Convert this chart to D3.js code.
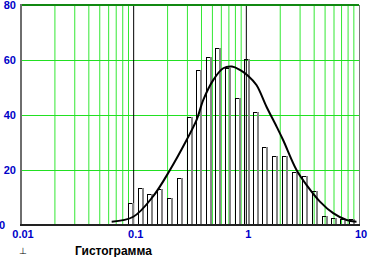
<!DOCTYPE html>
<html>
<head>
<meta charset="utf-8">
<script src="https://cdn.jsdelivr.net/npm/d3@7"></script>
<style>
  body { margin: 0; background: #fff; }
  svg { display: block; font-family: "Liberation Sans", Arial, sans-serif; }
</style>
</head>
<body>
<svg id="chart"></svg>
<script>
// histogram bins: lower edge of each bin and its count
const binLow = [0.0896, 0.1085, 0.132, 0.161, 0.1986, 0.2437, 0.297, 0.357, 0.438, 0.526,
                0.645, 0.792, 0.952, 1.156, 1.39, 1.687, 2.07, 2.54, 3.11, 3.82,
                4.69, 5.63, 6.77, 8.14];
const binCount = [8.1, 13.3, 11.4, 13, 9.9, 17, 39.3, 56.3, 61.2, 64.2,
                  57, 46.3, 60.2, 41.2, 28.2, 25.2, 25.2, 19.2, 17.9, 12.4,
                  3.3, 2.5, 2.2, 2.2];

// fitted density curve
const curveX = [0.0638, 0.0992, 0.148, 0.21, 0.295, 0.362, 0.415, 0.508, 0.624, 0.745,
                0.877, 1.04, 1.23, 1.51, 1.86, 2.12, 2.79, 3.43, 4.5, 5.9, 7.76, 9.5];
const curveY = [1.2, 3.0, 10.3, 20, 30.9, 38.2, 45.5, 52.7, 57, 57.6,
                56.4, 54.2, 50.9, 43, 35.7, 30.9, 20, 14.5, 8.5, 4.3, 1.8, 1.2];

const xTicks = [0.01, 0.1, 1, 10];
const xTickLabels = ['0.01', '0.1', '1', '10'];
const yTicks = [0, 20, 40, 60, 80];
const title = 'Гистограмма';

const config = {
    width: 369,
    height: 257,
    left: 21, right: 359, top: 5, bottom: 225,
    barWidth: 5,
    labelColor: '#0000c8'
};

const svg = d3.select('#chart')
    .attr('width', config.width)
    .attr('height', config.height);

const xScale = d3.scaleLog()
    .domain([0.01, 10])
    .range([config.left, config.right]);

const yScale = d3.scaleLinear()
    .domain([0, 80])
    .range([config.bottom, config.top]);

// minor log grid (2..9 in every decade)
let minor = [];
for (let d = 0.01; d < 10; d *= 10) {
    for (let k = 2; k <= 9; k++) minor.push(d * k);
}

svg.append('g')
    .selectAll('line')
    .data(minor)
    .join('line')
    .attr('x1', d => xScale(d)).attr('x2', d => xScale(d))
    .attr('y1', config.top).attr('y2', config.bottom)
    .attr('stroke', '#33e833')
    .attr('stroke-width', 1);

svg.append('g')
    .selectAll('line')
    .data(yTicks.filter(d => d > 0 && d < 80))
    .join('line')
    .attr('x1', config.left).attr('x2', config.right)
    .attr('y1', d => yScale(d) + 0.5).attr('y2', d => yScale(d) + 0.5)
    .attr('stroke', '#22e022')
    .attr('stroke-width', 1);

// decade lines
svg.append('g')
    .selectAll('line')
    .data([0.1, 1])
    .join('line')
    .attr('x1', d => xScale(d)).attr('x2', d => xScale(d))
    .attr('y1', config.top).attr('y2', config.bottom)
    .attr('stroke', '#000')
    .attr('stroke-width', 1);

// bars: black left/top edge, gray right edge, no fill
const bins = binLow.map((lo, i) => ({ lo: lo, count: binCount[i] }));
const bars = svg.append('g')
    .selectAll('g')
    .data(bins)
    .join('g');

bars.append('line')
    .attr('x1', d => Math.round(xScale(d.lo)) + 0.5)
    .attr('x2', d => Math.round(xScale(d.lo)) + 0.5)
    .attr('y1', config.bottom)
    .attr('y2', d => Math.round(yScale(d.count)) + 0.5)
    .attr('stroke', '#000');

bars.append('line')
    .attr('x1', d => Math.round(xScale(d.lo)))
    .attr('x2', d => Math.round(xScale(d.lo)) + config.barWidth)
    .attr('y1', d => Math.round(yScale(d.count)) + 0.5)
    .attr('y2', d => Math.round(yScale(d.count)) + 0.5)
    .attr('stroke', '#000');

bars.append('line')
    .attr('x1', d => Math.round(xScale(d.lo)) + config.barWidth)
    .attr('x2', d => Math.round(xScale(d.lo)) + config.barWidth)
    .attr('y1', config.bottom)
    .attr('y2', d => Math.round(yScale(d.count)))
    .attr('stroke', '#858585')
    .attr('stroke-width', 2);

// frame
svg.append('line')
    .attr('x1', config.left).attr('x2', config.right)
    .attr('y1', config.top).attr('y2', config.top)
    .attr('stroke', '#118811').attr('stroke-width', 2);
svg.append('line')
    .attr('x1', config.right + 0.5).attr('x2', config.right + 0.5)
    .attr('y1', config.top).attr('y2', config.bottom)
    .attr('stroke', '#777').attr('stroke-width', 1);
svg.append('line')
    .attr('x1', config.left).attr('x2', config.left)
    .attr('y1', config.top - 1).attr('y2', config.bottom + 1)
    .attr('stroke', '#6e6e6e').attr('stroke-width', 2);
svg.append('line')
    .attr('x1', config.left - 1).attr('x2', config.right + 1)
    .attr('y1', config.bottom).attr('y2', config.bottom)
    .attr('stroke', '#222').attr('stroke-width', 2);

// fitted curve
const line = d3.line()
    .x(d => xScale(d[0]))
    .y(d => yScale(d[1]))
    .curve(d3.curveCatmullRom);

svg.append('path')
    .datum(curveX.map((v, i) => [v, curveY[i]]))
    .attr('d', line)
    .attr('fill', 'none')
    .attr('stroke', '#000')
    .attr('stroke-width', 2);

// tick labels
svg.append('g')
    .selectAll('text')
    .data(yTicks)
    .join('text')
    .attr('x', d => d === 0 ? 5 : 16)
    .attr('y', d => yScale(d))
    .attr('dy', '0.35em')
    .attr('text-anchor', 'end')
    .attr('font-size', 11)
    .attr('font-weight', 'bold')
    .attr('fill', config.labelColor)
    .text(d => d);

svg.append('g')
    .selectAll('text')
    .data(xTicks)
    .join('text')
    .attr('x', d => xScale(d) + 2)
    .attr('y', 238)
    .attr('text-anchor', 'middle')
    .attr('font-size', 11)
    .attr('font-weight', 'bold')
    .attr('fill', config.labelColor)
    .text((d, i) => xTickLabels[i]);

svg.append('text')
    .attr('x', 23)
    .attr('y', 254)
    .attr('text-anchor', 'middle')
    .attr('font-size', 9)
    .attr('fill', '#000')
    .text('⊥');

svg.append('text')
    .attr('x', 75)
    .attr('y', 255)
    .attr('font-size', 12)
    .attr('font-weight', 'bold')
    .attr('fill', '#000')
    .text(title);
</script>
</body>
</html>
